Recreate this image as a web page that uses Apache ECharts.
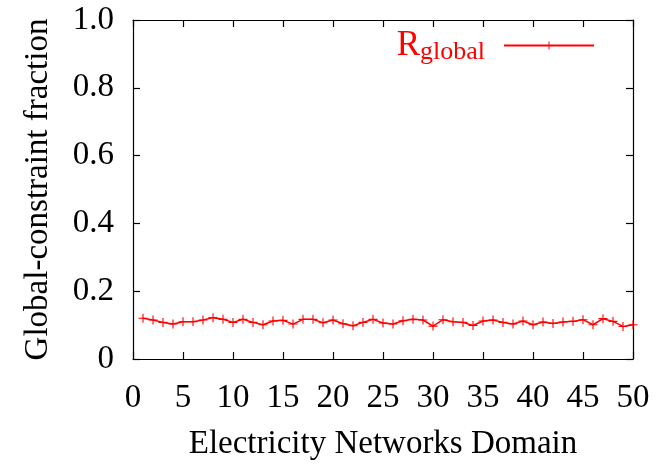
<!DOCTYPE html>
<html><head><meta charset="utf-8">
<script src="https://cdn.jsdelivr.net/npm/echarts@6/dist/echarts.min.js"></script>
<style>html,body{margin:0;padding:0;background:#fff}#c{width:657px;height:466px}</style>
</head><body><div id="c"></div>
<script>
const domains = [1,2,3,4,5,6,7,8,9,10,11,12,13,14,15,16,17,18,19,20,21,22,23,24,25,26,27,28,29,30,31,32,33,34,35,36,37,38,39,40,41,42,43,44,45,46,47,48,49,50];
const rGlobal = [0.120,0.115,0.108,0.103,0.110,0.110,0.115,0.122,0.117,0.108,0.117,0.108,0.101,0.112,0.114,0.103,0.117,0.117,0.107,0.115,0.104,0.098,0.108,0.117,0.106,0.103,0.113,0.117,0.115,0.097,0.116,0.110,0.108,0.099,0.112,0.115,0.108,0.103,0.112,0.101,0.109,0.105,0.109,0.111,0.116,0.101,0.119,0.111,0.096,0.101];
const seriesName = 'R_global';
const xTitle = 'Electricity Networks Domain';
const yTitle = 'Global-constraint fraction';

const FONT = "'Liberation Serif','Times New Roman',serif";
const FS = 33;
const plus = 'path://M4.4,0H5.6V4.4H10V5.6H5.6V10H4.4V5.6H0V4.4H4.4Z';
const chart = echarts.init(document.getElementById('c'));
const axisLine = {show:true, onZero:false, lineStyle:{color:'#000', width:1.2}};
const tick = {show:true, inside:true, length:7, lineStyle:{color:'#000', width:1.2}};
chart.setOption({
  animation:false,
  grid:{left:133, right:24, top:20, bottom:104, containLabel:false},
  legend:{
    data:[seriesName], top:23, right:57, align:'right', itemWidth:90, itemHeight:10, itemGap:10,
    formatter:()=>'{r|R}{s|global}',
    textStyle:{color:'red', padding:[0,14,0,0], rich:{r:{fontSize:35, fontFamily:FONT, color:'red'}, s:{fontSize:26, fontFamily:FONT, color:'red', padding:[13,0,0,0]}}}
  },
  xAxis:[{
    type:'value', min:0, max:50, interval:5,
    axisLine, axisTick:tick, splitLine:{show:false},
    axisLabel:{fontFamily:FONT, fontSize:FS, color:'#000', margin:23},
    name:xTitle, nameLocation:'middle', nameGap:69,
    nameTextStyle:{fontFamily:FONT, fontSize:FS, color:'#000'}
  },{
    type:'value', position:'top', min:0, max:50, interval:5,
    axisLine, axisTick:tick, axisLabel:{show:false}, splitLine:{show:false}
  }],
  yAxis:[{
    type:'value', min:0, max:1, interval:0.2,
    axisLine, axisTick:tick, splitLine:{show:false},
    axisLabel:{fontFamily:FONT, fontSize:FS, color:'#000', margin:19, formatter:v=>v===0?'0':v.toFixed(1)},
    name:yTitle, nameLocation:'middle', nameGap:78,
    nameTextStyle:{fontFamily:FONT, fontSize:FS, color:'#000'}
  },{
    type:'value', position:'right', min:0, max:1, interval:0.2,
    axisLine, axisTick:tick, axisLabel:{show:false}, splitLine:{show:false}
  }],
  series:[{
    name:seriesName, type:'line',
    data:domains.map((d,i)=>[d, rGlobal[i]]),
    symbol:plus, symbolSize:9, showAllSymbol:true,
    lineStyle:{color:'red', width:1.5},
    itemStyle:{color:'red'}
  }]
});
</script></body></html>
